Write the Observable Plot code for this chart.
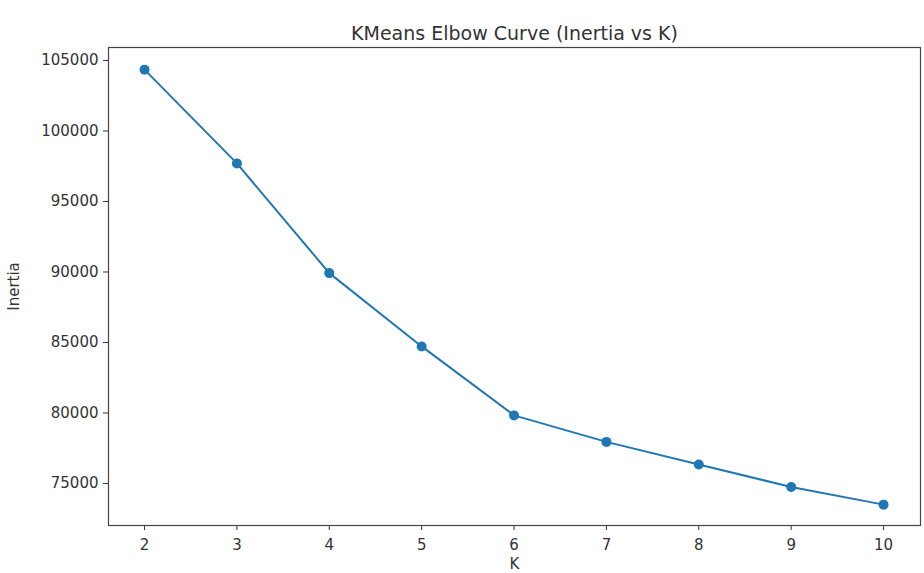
<!DOCTYPE html>
<html>
<head>
<meta charset="utf-8">
<script src="https://cdn.jsdelivr.net/npm/d3@7"></script>
<script src="https://cdn.jsdelivr.net/npm/@observablehq/plot@0.6"></script>
<style>
  html, body { margin: 0; padding: 0; background: #fff; }
  svg { display: block; }
</style>
</head>
<body>
<div id="chart"></div>
<script>
const ks = [2, 3, 4, 5, 6, 7, 8, 9, 10];
const inertia = [104350, 97700, 89920, 84720, 79830, 77950, 76350, 74750, 73500];
const yTicks = [75000, 80000, 85000, 90000, 95000, 100000, 105000];
const xTicks = [2, 3, 4, 5, 6, 7, 8, 9, 10];
const titleText = "KMeans Elbow Curve (Inertia vs K)";

const data = ks.map((k, i) => ({k, inertia: inertia[i]}));

const chart = Plot.plot({
  width: 924,
  height: 573,
  marginLeft: 108,
  marginRight: 4,
  marginTop: 47,
  marginBottom: 48,
  style: {fontFamily: "DejaVu Sans, sans-serif", fontSize: "15px", color: "#333", background: "#fff"},
  x: {domain: [1.61, 10.4], ticks: xTicks, tickFormat: d => String(d), label: "K", labelAnchor: "center", labelArrow: "none", labelOffset: 43, tickSize: 5, tickPadding: 9},
  y: {domain: [72020, 105920], ticks: yTicks, tickFormat: d => String(d), label: "Inertia", labelAnchor: "center", labelArrow: "none", labelOffset: 100, tickSize: 5, tickPadding: 5},
  marks: [
    Plot.frame({stroke: "#444", strokeWidth: 1.2}),
    Plot.line(data, {x: "k", y: "inertia", stroke: "#1f77b4", strokeWidth: 2}),
    Plot.dot(data, {x: "k", y: "inertia", fill: "#1f77b4", r: 5}),
    Plot.text([titleText], {frameAnchor: "top", dy: -21, text: d => d, fontSize: 19, fill: "#333"})
  ]
});
document.getElementById("chart").appendChild(chart);
</script>
</body>
</html>
